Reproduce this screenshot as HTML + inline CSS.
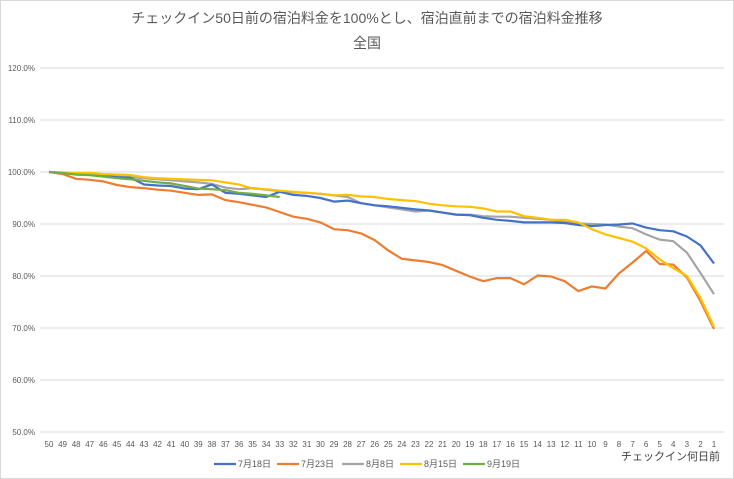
<!DOCTYPE html>
<html><head><meta charset="utf-8"><style>
body{margin:0;background:#fff;}
svg{display:block;font-family:"Liberation Sans","Noto Sans CJK JP",sans-serif;}
</style></head><body>
<svg id="c" width="734" height="479" viewBox="0 0 734 479" xmlns="http://www.w3.org/2000/svg">
<rect x="0.5" y="0.5" width="733" height="478" fill="#fff" stroke="#d9d9d9"/>
<text x="367" y="23" text-anchor="middle" font-size="14" fill="#595959">チェックイン50日前の宿泊料金を100%とし、宿泊直前までの宿泊料金推移</text>
<text x="367" y="48" text-anchor="middle" font-size="14" fill="#595959">全国</text>
<g id="grid"></g><g id="lines"></g>
<text x="720" y="460" text-anchor="end" font-size="11" fill="#404040">チェックイン何日前</text>
<g font-size="9" fill="#595959">
<line x1="214" y1="464" x2="236" y2="464" stroke="#4472c4" stroke-width="2.2"/><text x="238" y="467">7月18日</text>
<line x1="277" y1="464" x2="299" y2="464" stroke="#ed7d31" stroke-width="2.2"/><text x="301" y="467">7月23日</text>
<line x1="342" y1="464" x2="364" y2="464" stroke="#a5a5a5" stroke-width="2.2"/><text x="366" y="467">8月8日</text>
<line x1="400" y1="464" x2="422" y2="464" stroke="#ffc000" stroke-width="2.2"/><text x="424" y="467">8月15日</text>
<line x1="463" y1="464" x2="485" y2="464" stroke="#70ad47" stroke-width="2.2"/><text x="487" y="467">9月19日</text>
</g>
</svg>
<script>
const X=i=>49+i*665/49, Y=v=>172-(v-100)*5.2;
let g='';
for(let p=50;p<=120;p+=10){const y=Y(p);g+=`<line x1="40" y1="${y}" x2="724" y2="${y}" stroke="#d9d9d9"/><text x="35" y="${y+3}" text-anchor="end" font-size="8" fill="#595959">${p.toFixed(1)}%</text>`;}
for(let i=0;i<50;i++)g+=`<text x="${X(i)}" y="447" text-anchor="middle" font-size="8" fill="#595959">${50-i}</text>`;
document.getElementById('grid').innerHTML=g;
const S=[
['#a5a5a5',[100,99.8,99.7,99.6,99.4,99.2,99.0,98.8,98.6,98.4,98.2,98.0,97.7,97.0,96.7,96.9,96.6,96.3,96.1,96.0,95.8,95.5,95.2,94.0,93.6,93.2,92.8,92.4,92.6,92.2,91.8,91.8,91.5,91.4,91.4,91.2,91.0,90.8,90.4,90.1,90.0,89.9,89.5,89.2,88.0,87.0,86.7,84.5,80.6,76.5]],
['#4472c4',[100,99.8,99.6,99.5,99.3,99.0,98.9,97.6,97.4,97.3,96.8,96.7,97.6,96.0,95.8,95.5,95.2,96.2,95.6,95.4,95.0,94.3,94.5,94.0,93.6,93.4,93.1,92.8,92.6,92.2,91.8,91.7,91.2,90.8,90.6,90.3,90.3,90.3,90.2,89.8,89.6,89.8,89.9,90.1,89.3,88.8,88.6,87.6,85.9,82.4]],
['#ed7d31',[100,99.6,98.7,98.5,98.2,97.5,97.1,96.9,96.6,96.4,96.0,95.6,95.7,94.6,94.2,93.7,93.2,92.3,91.4,91.0,90.3,89.0,88.8,88.2,86.9,84.9,83.3,83.0,82.7,82.1,81.0,79.9,79.0,79.6,79.6,78.4,80.1,79.9,79.0,77.1,78.0,77.6,80.5,82.6,84.8,82.3,82.2,79.7,75.2,69.8]],
['#ffc000',[100,99.9,99.8,99.8,99.6,99.5,99.4,99.0,98.8,98.7,98.6,98.5,98.4,98.0,97.6,96.8,96.7,96.4,96.2,96.0,95.8,95.5,95.6,95.3,95.2,94.8,94.6,94.4,93.9,93.6,93.4,93.3,93.0,92.4,92.4,91.5,91.2,90.8,90.8,90.3,89.0,88.0,87.3,86.6,85.3,83.2,81.5,80.0,75.8,70.2]],
['#70ad47',[100,99.8,99.5,99.4,99.1,98.8,98.6,98.3,98.0,97.8,97.3,96.8,96.7,96.5,96.0,95.8,95.5,95.2]]];
let l='';
for(const [c,d] of S){l+=`<polyline fill="none" stroke="${c}" stroke-width="2.2" stroke-linejoin="round" points="${d.map((v,i)=>X(i).toFixed(1)+','+Y(v).toFixed(1)).join(' ')}"/>`;}
document.getElementById('lines').innerHTML=l;
</script>
</body></html>
